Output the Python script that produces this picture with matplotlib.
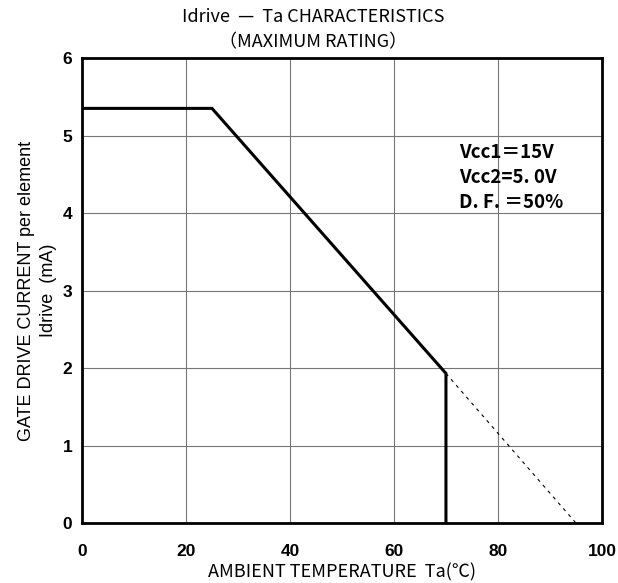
import matplotlib
matplotlib.use('Agg')
import matplotlib.pyplot as plt

plt.rcParams['font.family'] = ['Liberation Sans', 'Noto Sans CJK JP', 'DejaVu Sans']

# rated curve (solid) and derating extension (dashed)
ta_solid = [0, 25, 70, 70]
idrive_solid = [5.35, 5.35, 1.93, 0]
ta_dash = [70, 95]
idrive_dash = [1.93, 0]

x_ticks = [0, 20, 40, 60, 80, 100]
y_ticks = [0, 1, 2, 3, 4, 5, 6]
notes = ['Vcc1＝15V', 'Vcc2=5. 0V', 'D. F. ＝50%']

fig = plt.figure(figsize=(6.18, 5.83), dpi=100)
ax = fig.add_axes([0.1327, 0.1029, 0.8413, 0.7976])

ax.plot(ta_solid, idrive_solid, color='black', linewidth=2.2, solid_joinstyle='miter')
ax.plot(ta_dash, idrive_dash, color='black', linewidth=0.8, linestyle=(0, (3, 4)))

ax.set_xlim(0, 100)
ax.set_ylim(0, 6)
ax.set_xticks(x_ticks)
ax.set_yticks(y_ticks)
ax.grid(True, color='#777777', linewidth=0.8)
ax.tick_params(length=0, labelsize=12.5)
ax.tick_params(axis='x', pad=15)
ax.tick_params(axis='y', pad=7)
for lbl in ax.get_xticklabels() + ax.get_yticklabels():
    lbl.set_fontweight('bold')
for s in ax.spines.values():
    s.set_linewidth(2)

ax.set_xlabel('AMBIENT TEMPERATURE  Ta(℃)', fontsize=13, labelpad=3,
              family=['Noto Sans CJK JP', 'DejaVu Sans'])
ax.set_ylabel('GATE DRIVE CURRENT per element\nIdrive  (mA)', fontsize=13,
              labelpad=4, linespacing=1.35)

for i, t in enumerate(notes):
    ax.text(72.5, 4.78 - i * 0.32, t, fontsize=13.5, fontweight='bold',
            va='center', family=['Noto Sans CJK JP', 'DejaVu Sans'])

fig.text(0.507, 0.97, 'Idrive  —  Ta CHARACTERISTICS', ha='center', va='center',
         fontsize=13, family=['Noto Sans CJK JP', 'DejaVu Sans'])
fig.text(0.507, 0.927, '（MAXIMUM RATING）', ha='center', va='center',
         fontsize=13, family=['Noto Sans CJK JP', 'DejaVu Sans'])

fig.savefig('out.png', dpi=100)
